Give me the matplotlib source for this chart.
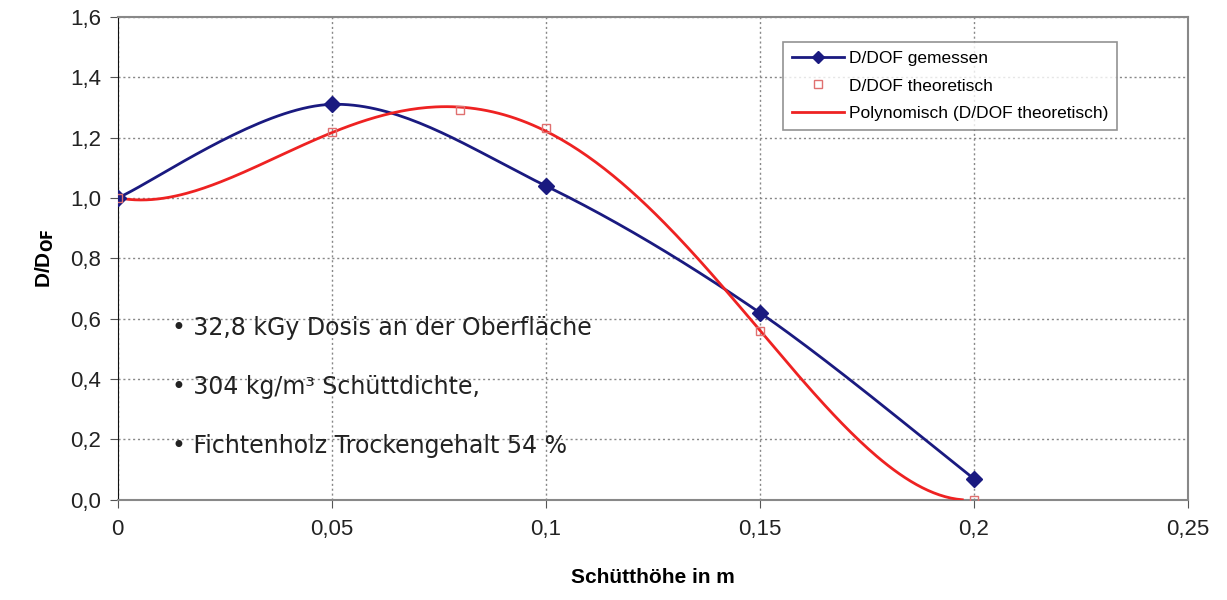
import numpy as np
import matplotlib
matplotlib.use("Agg")
import matplotlib.pyplot as plt
from matplotlib.ticker import FuncFormatter

# measured values
x_meas = [0.0, 0.05, 0.10, 0.15, 0.20]
y_meas = [1.00, 1.31, 1.04, 0.62, 0.07]

# theoretical values
x_theo = [0.0, 0.05, 0.08, 0.10, 0.15, 0.20]
y_theo = [1.00, 1.22, 1.29, 1.23, 0.56, 0.00]

notes = [
    "32,8 kGy Dosis an der Oberfläche",
    "304 kg/m³ Schüttdichte,",
    "Fichtenholz Trockengehalt 54 %",
]

BLUE = "#1a1a80"
RED = "#ee2222"


def smooth(x, y, n=40):
    # Excel style smoothed line: cubic bezier through the points
    x = np.asarray(x, float)
    y = np.asarray(y, float)
    px, py = [], []
    for i in range(len(x) - 1):
        i0 = max(i - 1, 0)
        i3 = min(i + 2, len(x) - 1)
        c1 = (x[i] + (x[i + 1] - x[i0]) / 6, y[i] + (y[i + 1] - y[i0]) / 6)
        c2 = (x[i + 1] - (x[i3] - x[i]) / 6, y[i + 1] - (y[i3] - y[i]) / 6)
        t = np.linspace(0, 1, n)
        b0, b1, b2, b3 = (1 - t) ** 3, 3 * (1 - t) ** 2 * t, 3 * (1 - t) * t ** 2, t ** 3
        px.append(b0 * x[i] + b1 * c1[0] + b2 * c2[0] + b3 * x[i + 1])
        py.append(b0 * y[i] + b1 * c1[1] + b2 * c2[1] + b3 * y[i + 1])
    return np.concatenate(px), np.concatenate(py)


plt.rcParams["font.family"] = ["Liberation Sans", "DejaVu Sans"]

fig = plt.figure(figsize=(12.27, 6.0), dpi=100)
ax = fig.add_axes([0.096, 0.167, 0.872, 0.805])

sx, sy = smooth(x_meas, y_meas)
ax.plot(sx, sy, color=BLUE, lw=2, zorder=3)
ax.plot(x_meas, y_meas, ls="none", marker="D", ms=8, color=BLUE, zorder=4)
ax.plot([], [], color=BLUE, lw=2, marker="D", ms=6, label="D/DOF gemessen")

ax.plot(x_theo, y_theo, ls="none", marker="s", ms=6, mfc="none", mec="#e07070",
        mew=1, zorder=5, label="D/DOF theoretisch")

coef = np.polyfit(x_theo, y_theo, 4)
xp = np.linspace(0, 0.2, 300)
yp = np.polyval(coef, xp)
keep = yp >= 0
ax.plot(xp[keep], yp[keep], color=RED, lw=2, zorder=3,
        label="Polynomisch (D/DOF theoretisch)")

ax.set_xlim(0, 0.25)
ax.set_ylim(0, 1.6)
ax.set_xticks(np.arange(0, 0.26, 0.05))
ax.set_yticks(np.arange(0, 1.61, 0.2))
ax.xaxis.set_major_formatter(FuncFormatter(lambda v, p: "0" if v == 0 else f"{v:g}".replace(".", ",")))
ax.yaxis.set_major_formatter(FuncFormatter(lambda v, p: f"{v:.1f}".replace(".", ",")))
ax.tick_params(labelsize=16, length=6, color="#555555", labelcolor="#222222")
ax.tick_params(axis="x", pad=8)
ax.tick_params(axis="y", pad=6)
ax.grid(True, ls=(0, (1.5, 2)), color="#888888", lw=1)

for side in ["top", "right", "bottom"]:
    ax.spines[side].set_color("#888888")
    ax.spines[side].set_linewidth(1.5)
ax.spines["left"].set_color("#111111")

ax.set_xlabel("Schütthöhe in m", fontsize=15, fontweight="bold", labelpad=20)
ax.set_ylabel(r"D/D$_{\mathbf{OF}}$", fontsize=15, fontweight="bold", labelpad=10)

leg = ax.legend(loc="upper right", bbox_to_anchor=(0.942, 0.965), fontsize=12.5,
                frameon=True, fancybox=False, edgecolor="#777777",
                handlelength=3.0, borderpad=0.5, labelspacing=0.7, handletextpad=0.3)
leg.get_frame().set_linewidth(1.2)

for i, t in enumerate(notes):
    fig.text(0.140, 1 - (328 + i * 59) / 600, "• " + t, fontsize=17,
             family="DejaVu Sans", color="#222222", va="center")

fig.savefig("out.png")
